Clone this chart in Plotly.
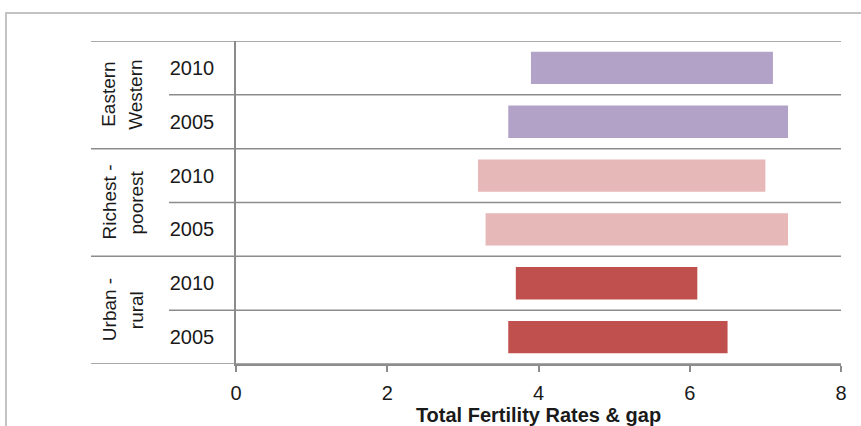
import plotly.graph_objects as go

# Data
groups = ["Urban -<br>rural", "Richest -<br>poorest", "Eastern<br>Western"]
years = ["2005", "2010"]
low = [3.6, 3.7, 3.3, 3.2, 3.6, 3.9]     # order: Urban 2005, Urban 2010, Rich 2005, Rich 2010, East 2005, East 2010
high = [6.5, 6.1, 7.3, 7.0, 7.3, 7.1]
group_colors = ["#c0504d", "#e6b9b8", "#b3a2c7"]
x_ticks = [0, 2, 4, 6, 8]
x_title = "Total Fertility Rates & gap"

FONT = "Liberation Sans, Arial, sans-serif"
GRID = "#8c8c8c"
TXT = "#1a1a1a"

W, H = 861, 426
L, R, T, B = 236, 20, 41, 62
pw = W - L - R
ph = H - T - B

def px_to_paper_x(px):
    return (px - L) / pw

def px_to_paper_y(py):
    return (H - B - py) / ph

n = len(low)
pos = list(range(n))
ticktext = [years[i % 2] for i in range(n)]
colors = [group_colors[i // 2] for i in range(n)]

fig = go.Figure()
fig.add_trace(go.Bar(
    y=pos,
    x=[h - l for l, h in zip(low, high)],
    base=low,
    orientation="h",
    width=0.6,
    marker=dict(color=colors, line=dict(width=0)),
    showlegend=False,
    hoverinfo="skip",
))

shapes = []
for i in range(len(groups) + 1):
    yb = i * 2 - 0.5
    shapes.append(dict(type="line", xref="paper", yref="y",
                       x0=px_to_paper_x(91), x1=1, y0=yb, y1=yb,
                       line=dict(color=GRID, width=1.5), layer="below"))
for i in range(len(groups)):
    yb = i * 2 + 0.5
    shapes.append(dict(type="line", xref="paper", yref="y",
                       x0=px_to_paper_x(169), x1=1, y0=yb, y1=yb,
                       line=dict(color=GRID, width=1.5), layer="below"))
shapes.append(dict(type="rect", xref="paper", yref="paper",
                   x0=px_to_paper_x(6), x1=px_to_paper_x(W + 20),
                   y0=px_to_paper_y(H + 20), y1=px_to_paper_y(13),
                   line=dict(color="#c3c3c3", width=2), fillcolor="rgba(0,0,0,0)",
                   layer="below"))

annotations = []
line_x = [109, 136]
for gi, g in enumerate(groups):
    for li, part in enumerate(g.split("<br>")):
        annotations.append(dict(
            text=part, x=px_to_paper_x(line_x[li]), y=gi * 2 + 0.5,
            xref="paper", yref="y",
            textangle=-90, showarrow=False, xanchor="center", yanchor="middle",
            font=dict(family=FONT, size=19, color=TXT),
        ))

fig.update_layout(
    width=W, height=H,
    margin=dict(l=L, r=R, t=T, b=B, pad=0, autoexpand=False),
    paper_bgcolor="white", plot_bgcolor="white",
    font=dict(family=FONT, color=TXT),
    shapes=shapes,
    annotations=annotations,
    xaxis=dict(
        range=[0, 8], tickvals=x_ticks, ticktext=[str(v) for v in x_ticks],
        showgrid=False, zeroline=False, automargin=False,
        showline=True, linecolor=GRID, linewidth=1.5,
        ticks="outside", ticklen=6, tickcolor=GRID, tickwidth=1.5,
        ticklabelstandoff=4,
        tickfont=dict(family=FONT, size=20, color=TXT),
        title=dict(text="<b>" + x_title + "</b>", standoff=2,
                   font=dict(family=FONT, size=20, color=TXT)),
    ),
    yaxis=dict(
        range=[-0.5, n - 0.5], tickvals=pos, ticktext=ticktext,
        showgrid=False, zeroline=False, automargin=False,
        showline=True, linecolor=GRID, linewidth=1.5,
        ticks="", ticklabelstandoff=16,
        tickfont=dict(family=FONT, size=20, color=TXT),
    ),
)

fig.write_html("out.html", config={"displayModeBar": False},
               post_script="document.body.style.margin='0';")
